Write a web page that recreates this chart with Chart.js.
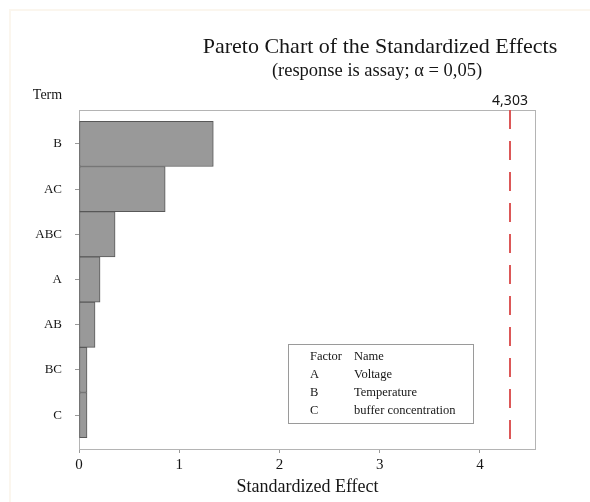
<!DOCTYPE html>
<html>
<head>
<meta charset="utf-8">
<script src="https://cdn.jsdelivr.net/npm/chart.js@4.4.0/dist/chart.umd.min.js"></script>
<style>
  body { margin: 0; background: #fff; }
  #wrap { position: relative; width: 590px; height: 502px; }
</style>
</head>
<body>
<div id="wrap"><canvas id="pareto" width="590" height="502"></canvas></div>
<script>
// Values
const terms = ['B', 'AC', 'ABC', 'A', 'AB', 'BC', 'C'];
const effects = [1.34, 0.86, 0.36, 0.21, 0.16, 0.08, 0.08];
const criticalValue = 4.303;
const criticalLabel = '4,303';
const effectTicks = [0, 1, 2, 3, 4];
const factorCodes = ['A', 'B', 'C'];
const factorNames = ['Voltage', 'Temperature', 'buffer concentration'];

const SERIF = '"Liberation Serif", "Times New Roman", serif';
const TEXT = '#161616';

const decorations = {
    id: 'decorations',
    beforeDraw(chart) {
        const ctx = chart.ctx;
        ctx.save();
        ctx.fillStyle = '#fbf6ee';
        ctx.fillRect(9, 9, 2, chart.height - 9);
        ctx.fillRect(9, 9, chart.width - 9, 2);
        ctx.restore();
    },
    beforeDatasetsDraw(chart) {
        const { ctx, chartArea: a } = chart;
        ctx.save();
        ctx.strokeStyle = '#b4b4b4';
        ctx.lineWidth = 1;
        ctx.strokeRect(a.left + 0.5, a.top + 0.5, a.right - a.left - 1, a.bottom - a.top);
        ctx.restore();
    },
    afterDatasetsDraw(chart) {
        const { ctx, chartArea: a } = chart;
        const x = Math.round(chart.scales.x.getPixelForValue(criticalValue));

        ctx.save();
        // critical value line
        ctx.strokeStyle = '#dc5858';
        ctx.lineWidth = 2;
        ctx.setLineDash([19, 12]);
        ctx.beginPath();
        ctx.moveTo(x, a.top);
        ctx.lineTo(x, a.bottom);
        ctx.stroke();
        ctx.setLineDash([]);

        ctx.fillStyle = TEXT;
        ctx.textAlign = 'center';
        ctx.textBaseline = 'middle';
        ctx.font = '14px "Noto Sans", sans-serif';
        ctx.fillText(criticalLabel, x, 101);

        // titles
        ctx.font = '22px ' + SERIF;
        ctx.fillText('Pareto Chart of the Standardized Effects', 380, 47);
        ctx.font = '18.5px ' + SERIF;
        ctx.fillText('(response is assay; \u03b1 = 0,05)', 377, 71);
        ctx.font = '14px ' + SERIF;
        ctx.fillText('Term', 47.5, 95);

        // factor legend box
        ctx.strokeStyle = '#9a9a9a';
        ctx.lineWidth = 1;
        ctx.strokeRect(288.5, 344.5, 185, 79);
        ctx.textAlign = 'left';
        ctx.font = '12.5px ' + SERIF;
        const col1 = 310, col2 = 354, row0 = 357, rowStep = 18;
        ctx.fillText('Factor', col1, row0);
        ctx.fillText('Name', col2, row0);
        factorCodes.forEach((code, i) => {
            ctx.fillText(code, col1, row0 + rowStep * (i + 1));
            ctx.fillText(factorNames[i], col2, row0 + rowStep * (i + 1));
        });
        ctx.restore();
    }
};

const ctx = document.getElementById('pareto').getContext('2d');
new Chart(ctx, {
    type: 'bar',
    data: {
        datasets: [{
            data: effects.map((v, i) => ({ x: v, y: i })),
            backgroundColor: '#999999',
            borderColor: '#585858',
            borderWidth: 1,
            borderSkipped: false,
            barPercentage: 1,
            categoryPercentage: 1,
        }]
    },
    options: {
        indexAxis: 'y',
        responsive: false,
        animation: false,
        layout: { padding: { left: 0, right: 54, top: 110, bottom: 0 } },
        plugins: { legend: { display: false }, tooltip: { enabled: false } },
        scales: {
            x: {
                type: 'linear',
                min: 0,
                max: 4.56,
                afterBuildTicks: s => { s.ticks = effectTicks.map(v => ({ value: v })); },
                afterFit: s => { s.height = 53; },
                ticks: { font: { family: SERIF, size: 15 }, color: TEXT, padding: 3 },
                grid: { drawOnChartArea: false, tickLength: 4, color: '#9a9a9a' },
                border: { display: false },
                title: {
                    display: true,
                    text: 'Standardized Effect',
                    font: { family: SERIF, size: 18 },
                    color: TEXT,
                    padding: { top: 0, bottom: 4 }
                }
            },
            y: {
                type: 'linear',
                min: -0.75,
                max: 6.75,
                reverse: true,
                offset: false,
                afterBuildTicks: s => { s.ticks = terms.map((t, i) => ({ value: i })); },
                afterFit: s => { s.width = 79; },
                ticks: { callback: v => terms[v], font: { family: SERIF, size: 13 }, color: TEXT, padding: 13 },
                grid: { offset: false, drawOnChartArea: false, tickLength: 4, color: '#9a9a9a' },
                border: { display: false }
            }
        }
    },
    plugins: [decorations]
});
</script>
</body>
</html>
